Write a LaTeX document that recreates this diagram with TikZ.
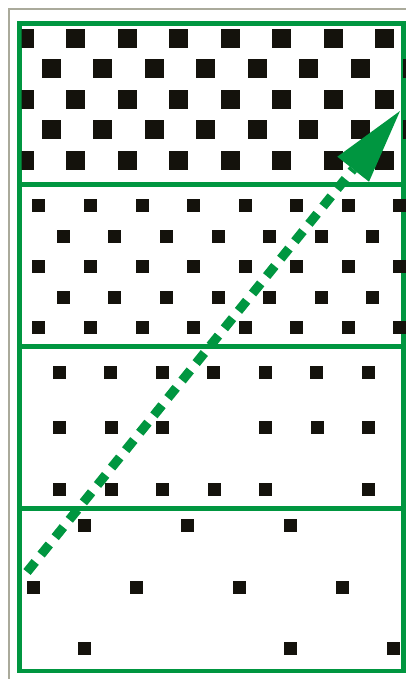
\documentclass[tikz,border=0pt]{standalone}
\definecolor{grn}{RGB}{0,150,64}
\definecolor{blk}{RGB}{20,18,12}
\definecolor{frm}{RGB}{170,170,155}
\begin{document}
\begin{tikzpicture}[x=1pt,y=-1pt,
  border/.style={draw=grn,line width=4.8pt},
  sqbig/.style={fill=blk},
  sqsmall/.style={fill=blk},
  frame/.style={draw=frm,line width=2pt},
  arrowline/.style={draw=grn,line width=9.3pt,dash pattern=on 13pt off 9.4pt},
  arrowhead/.style={fill=grn}]
\useasboundingbox (0,0) rectangle (406,679);
\fill[white] (0,0) rectangle (406,679);
% outer grey frame
\draw[frame] (9,679) -- (9,9) -- (406,9);
% green sections
\draw[border] (19.2,23.5) rectangle (403.5,671);
\draw[border] (19.2,184.5) -- (403.5,184.5);
\draw[border] (19.2,346.5) -- (403.5,346.5);
\draw[border] (19.2,508.5) -- (403.5,508.5);
\begin{scope}
\clip (21.7,0) rectangle (406,679);
% section 1 : big squares
\foreach \y in {38.5,99.5,160.5}
  \foreach \x in {24.1,75.6,127.1,178.6,230.1,281.6,333.1,384.6}
    \fill[sqbig] (\x-9.5,\y-9.5) rectangle ++(19,19);
\foreach \y in {69,130}
  \foreach \x in {51.5,102.5,154.5,205.5,257.5,308.5,360.5,412}
    \fill[sqbig] (\x-9.5,\y-9.5) rectangle ++(19,19);
% section 2
\foreach \y in {205.5,266.5,327.5}
  \foreach \x in {38.5,90.5,142.5,193.5,245.5,296.5,348.5,399.5}
    \fill[sqsmall] (\x-6.5,\y-6.5) rectangle ++(13,13);
\foreach \y in {236,297}
  \foreach \x in {63.5,114.5,166.5,218.5,269.5,321.5,372.5}
    \fill[sqsmall] (\x-6.5,\y-6.5) rectangle ++(13,13);
% section 3
\foreach \x in {59.5,110.5,162.5,213.5,265.5,316.5,368.5}
  \fill[sqsmall] (\x-6.5,372.5-6.5) rectangle ++(13,13);
\foreach \x in {59.5,111.5,162.5,265.5,317.5,368.5}
  \fill[sqsmall] (\x-6.5,427.5-6.5) rectangle ++(13,13);
\foreach \x in {59.5,111.5,162.5,214.5,265.5,368.5}
  \fill[sqsmall] (\x-6.5,489.5-6.5) rectangle ++(13,13);
% section 4
\foreach \x in {84.5,187.5,290.5}
  \fill[sqsmall] (\x-6.5,525.5-6.5) rectangle ++(13,13);
\foreach \x in {33.5,136.5,239.5,342.5}
  \fill[sqsmall] (\x-6.5,587.5-6.5) rectangle ++(13,13);
\foreach \x in {84.5,290.5,393.5}
  \fill[sqsmall] (\x-6.5,648.5-6.5) rectangle ++(13,13);
\end{scope}
% arrow
\coordinate (s) at (27,572);
\coordinate (b) at (353.2,169.2);
\coordinate (t) at (400,111);
\coordinate (l) at (337.3,156.7);
\coordinate (r) at (369,181.7);
\draw[arrowline] (s) -- (b);
\fill[arrowhead] (t) -- (l) -- (r) -- cycle;
\end{tikzpicture}
\end{document}
